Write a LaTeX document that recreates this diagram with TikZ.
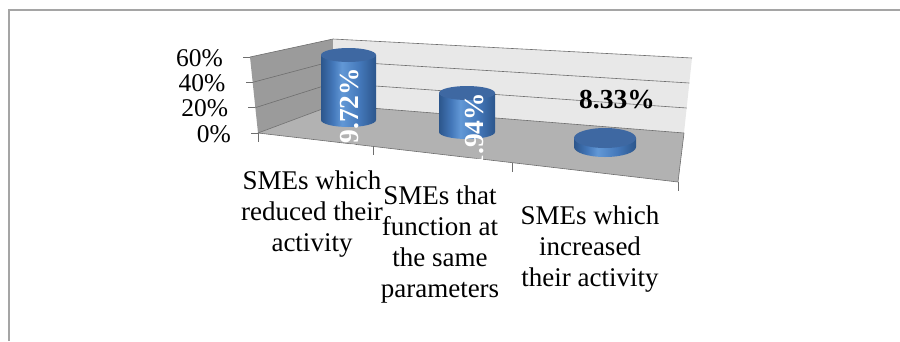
\documentclass[tikz,border=0pt]{standalone}
\usepackage{fontspec}
\setmainfont{Liberation Serif}
\usetikzlibrary{calc}
\definecolor{FrameClr}{RGB}{165,165,165}
\definecolor{SideWallClr}{RGB}{155,155,155}
\definecolor{BackWallClr}{RGB}{232,232,232}
\definecolor{FloorClr}{RGB}{178,178,178}
\definecolor{GridClr}{RGB}{110,110,110}
\definecolor{BarDarkClr}{RGB}{44,86,140}
\definecolor{BarMidClr}{RGB}{68,120,186}
\definecolor{BarLightClr}{RGB}{98,152,214}
\definecolor{BarTopClr}{RGB}{62,104,162}
\pgfdeclarehorizontalshading{BarShade}{100bp}{color(0bp)=(BarDarkClr); color(25bp)=(BarDarkClr); color(36bp)=(BarMidClr); color(44bp)=(BarLightClr); color(60bp)=(BarMidClr); color(75bp)=(BarDarkClr); color(100bp)=(BarDarkClr)}
\newcommand{\DrawBar}[5]{%
  \path[shading=BarShade] (#1-#4,#2) -- (#1-#4,#3)
    arc[start angle=180,end angle=360,x radius=#4pt,y radius=#5pt] -- (#1+#4,#2) -- cycle;
  \fill[BarTopClr] (#1,#2) ellipse[x radius=#4pt,y radius=#5pt];
}

\begin{document}
\begin{tikzpicture}[x=1pt,y=-1pt,
  gridline/.style={GridClr,line width=.6pt},
  tickline/.style={GridClr,line width=.8pt},
  axislbl/.style={anchor=east,inner sep=0,font=\fontsize{25.5}{29}\selectfont},
  catlbl/.style={anchor=north,inner sep=0,align=center,font=\fontsize{27}{31}\selectfont},
  pctin/.style={inner sep=0,text=white,rotate=90,font=\bfseries\fontsize{27.5}{31}\selectfont},
  pctout/.style={inner sep=0,font=\bfseries\fontsize{27.5}{31}\selectfont}]
\useasboundingbox (0,0) rectangle (900,341);
\draw[FrameClr,line width=2pt] (9,341) -- (9,10) -- (900,10);

\coordinate (LT) at (250,57);
\coordinate (LB) at (258,133);
\coordinate (BT) at (333,39);
\coordinate (BB) at (333,105);
\coordinate (RT) at (692,58);
\coordinate (RB) at (684,133);
\coordinate (FR) at (678,182);

\fill[SideWallClr] (LT) -- (BT) -- (BB) -- (LB) -- cycle;
\fill[BackWallClr] (BT) -- (RT) -- (RB) -- (BB) -- cycle;
\fill[FloorClr] (LB) -- (BB) -- (RB) -- (FR) -- cycle;

\foreach \k in {0,...,3}{
  \draw[gridline] ($(LB)!\k/3!(LT)$) -- ($(BB)!\k/3!(BT)$) -- ($(RB)!\k/3!(RT)$);
}
\draw[gridline] (LB) -- (FR) -- (RB);

% ticks and values
\foreach \k/\v in {0/0,1/20,2/40,3/60}{
  \draw[tickline] ($(LB)!\k/3!(LT)$) -- ++(-7,0);
  \node[axislbl] (ax\k) at ($(LB)!\k/3!(LT)+(-27,1)$) {\v\%};
}
\foreach \x in {0,115,254,420}{
  \draw[tickline] ($(LB)!\x/420!(FR)$) -- ++(0,9);
}

\DrawBar{348.5}{55}{120}{27.5}{7}
\DrawBar{467}{93}{132}{28}{7}
\DrawBar{605}{138}{147}{31}{10}

\node[pctin] (v1) at (350,112.5) {59.72\%};
\node[pctin] (v2) at (475,137.5) {31.94\%};
\node[pctout] (v3) at (617,100) {8.33\%};

\node[catlbl] (c1) at (312,171) {SMEs which\\reduced their\\activity};
\node[catlbl] (c2) at (440,186) {SMEs that\\function at\\the same\\parameters};
\node[catlbl] (c3) at (590,206) {SMEs which\\increased\\their activity};
\end{tikzpicture}
\end{document}
